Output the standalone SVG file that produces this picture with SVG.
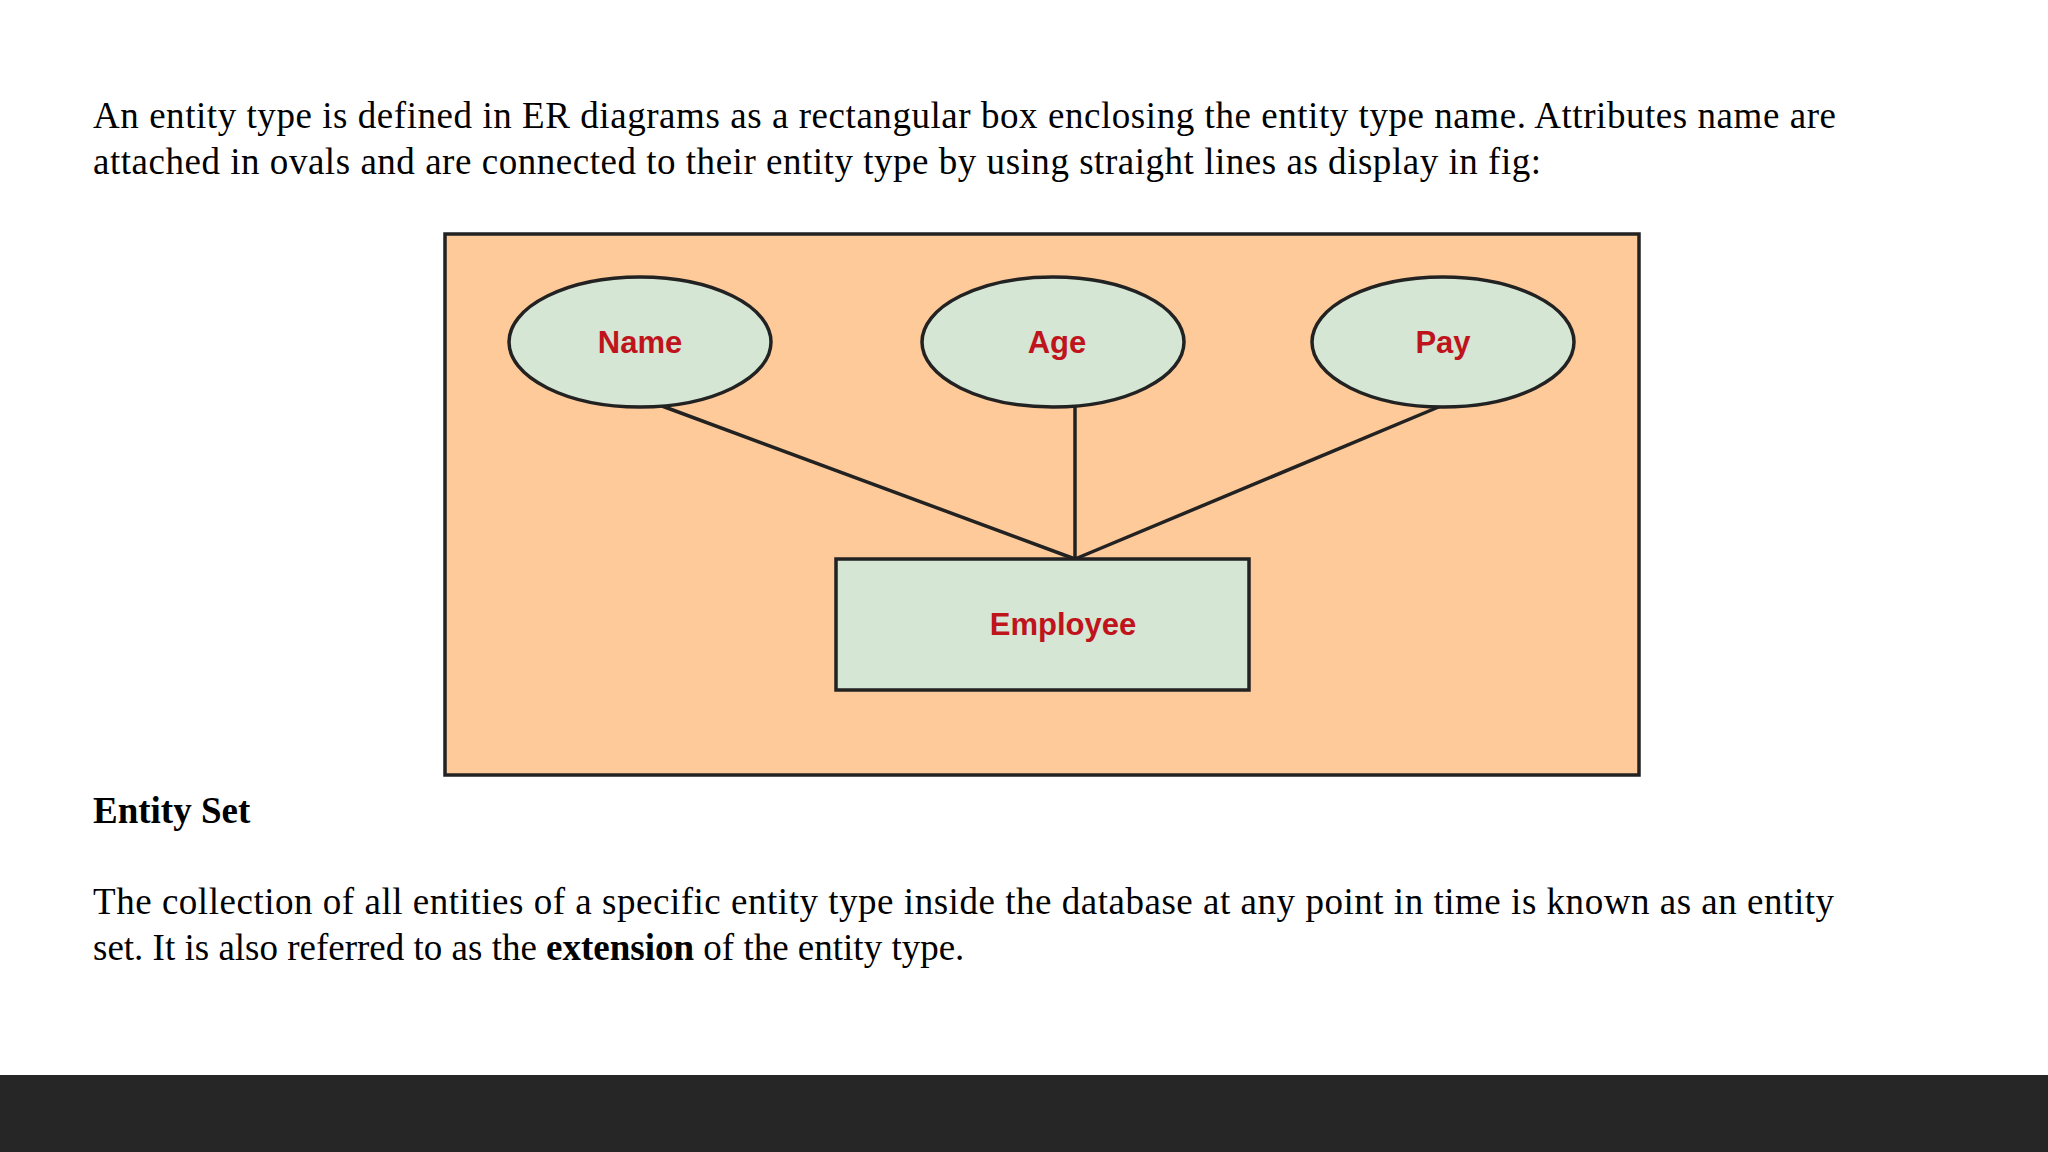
<svg xmlns="http://www.w3.org/2000/svg" width="2048" height="1152" viewBox="0 0 2048 1152">
<style>
.t{font-family:"Liberation Serif",serif;font-size:37px;fill:#000}
.e{fill:#D5E6D5;stroke:#222;stroke-width:3.5}
.l{font-family:"Liberation Sans",Arial,sans-serif;font-weight:bold;font-size:31px;fill:#C0141C;text-anchor:middle;dominant-baseline:central}
</style>
<rect width="2048" height="1152" fill="#fff"/>
<text class="t" x="93" y="128" textLength="1743" lengthAdjust="spacing">An entity type is defined in ER diagrams as a rectangular box enclosing the entity type name. Attributes name are</text>
<text class="t" x="93" y="174" textLength="1448" lengthAdjust="spacing">attached in ovals and are connected to their entity type by using straight lines as display in fig:</text>
<g id="figure">
<rect x="445" y="234" width="1194" height="541" fill="#FECA9A" stroke="#222" stroke-width="3.5"/>
</g>
<g id="connectors" stroke="#222" stroke-width="3.5">
<line x1="662" y1="406" x2="1075" y2="559"/>
<line x1="1075" y1="406" x2="1075" y2="559"/>
<line x1="1441" y1="406" x2="1075" y2="559"/>
</g>
<g id="name"><ellipse class="e" cx="640" cy="342" rx="131" ry="65"/><text class="l" x="640" y="342">Name</text></g>
<g id="age"><ellipse class="e" cx="1053" cy="342" rx="131" ry="65"/><text class="l" x="1057" y="342">Age</text></g>
<g id="pay"><ellipse class="e" cx="1443" cy="342" rx="131" ry="65"/><text class="l" x="1443" y="342">Pay</text></g>
<g id="employee"><rect class="e" x="836" y="559" width="413" height="131"/><text class="l" x="1063" y="624">Employee</text></g>
<text class="t" x="93" y="823" font-weight="bold">Entity Set</text>
<text class="t" x="93" y="914" textLength="1741" lengthAdjust="spacing">The collection of all entities of a specific entity type inside the database at any point in time is known as an entity</text>
<text class="t" x="93" y="960">set. It is also referred to as the <tspan font-weight="bold">extension</tspan> of the entity type.</text>
<rect x="0" y="1075" width="2048" height="77" fill="#262626"/>
</svg>
